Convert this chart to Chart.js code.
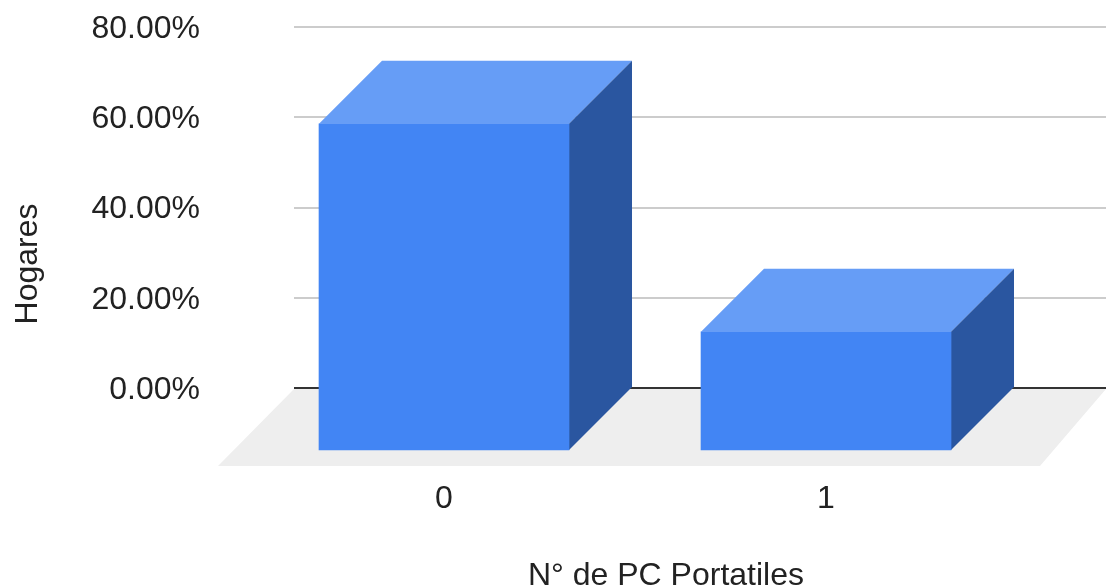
<!DOCTYPE html>
<html>
<head>
<meta charset="utf-8">
<style>
  html, body { margin: 0; padding: 0; background: #fff; }
  canvas { display: block; }
</style>
<script src="https://cdn.jsdelivr.net/npm/chart.js@4"></script>
</head>
<body>
<canvas id="chart" width="1106" height="588"></canvas>
<script>
const categories = [0, 1];
const hogares = [72.5, 26.4];
const yTicks = [0, 20, 40, 60, 80];
const xTitle = 'N° de PC Portatiles';
const yTitle = 'Hogares';

const FONT = '"Liberation Sans", Arial, sans-serif';
const DEPTH = 63; // how far the front of a bar sits from the back wall

const box3d = {
  id: 'box3d',
  // the grey floor goes under the grid lines
  beforeDraw(chart) {
    const { ctx, chartArea: a } = chart;
    ctx.save();
    ctx.fillStyle = '#eeeeee';
    ctx.beginPath();
    ctx.moveTo(a.left, a.bottom + 1);
    ctx.lineTo(a.right, a.bottom + 1);
    ctx.lineTo(a.right - 66, a.bottom + 78);
    ctx.lineTo(a.left - 76, a.bottom + 78);
    ctx.closePath();
    ctx.fill();
    ctx.restore();
  },
  beforeDatasetsDraw(chart) {
    const ctx = chart.ctx;
    chart.getDatasetMeta(0).data.forEach(bar => {
      const left = bar.x - bar.width / 2, right = bar.x + bar.width / 2;
      ctx.fillStyle = '#669df6';
      ctx.beginPath();
      ctx.moveTo(left - DEPTH, bar.y + DEPTH);
      ctx.lineTo(left, bar.y);
      ctx.lineTo(right, bar.y);
      ctx.lineTo(right - DEPTH, bar.y + DEPTH);
      ctx.closePath();
      ctx.fill();
      ctx.fillStyle = '#2a56a0';
      ctx.beginPath();
      ctx.moveTo(right - DEPTH, bar.y + DEPTH);
      ctx.lineTo(right, bar.y);
      ctx.lineTo(right, bar.base);
      ctx.lineTo(right - DEPTH, bar.base + DEPTH);
      ctx.closePath();
      ctx.fill();
    });
  },
  // the real bars are the front faces, moved forward onto the floor
  beforeDatasetDraw(chart) {
    chart.ctx.save();
    chart.ctx.translate(-DEPTH, DEPTH);
  },
  afterDatasetDraw(chart) {
    chart.ctx.restore();
  },
  // axis titles do not sit centred on the plot, so they are placed here
  afterDraw(chart) {
    const ctx = chart.ctx;
    ctx.save();
    ctx.fillStyle = '#222222';
    ctx.font = '32px ' + FONT;
    ctx.textAlign = 'center';
    ctx.textBaseline = 'middle';
    ctx.fillText(xTitle, 666, 576);
    ctx.translate(28, 264);
    ctx.rotate(-Math.PI / 2);
    ctx.fillText(yTitle, 0, 0);
    ctx.restore();
  }
};

new Chart(document.getElementById('chart'), {
  type: 'bar',
  data: {
    datasets: [{
      label: yTitle,
      data: categories.map((c, i) => ({ x: c, y: hogares[i] })),
      backgroundColor: '#4285f4',
      barThickness: 250,
      clip: false
    }]
  },
  plugins: [box3d],
  options: {
    responsive: false,
    animation: false,
    layout: { padding: { top: 27 } },
    plugins: {
      legend: { display: false },
      tooltip: { enabled: false }
    },
    scales: {
      x: {
        type: 'linear',
        offset: false,
        min: -0.5576,
        max: 1.568,
        afterBuildTicks(scale) { scale.ticks = categories.map(c => ({ value: c })); },
        afterFit(scale) { scale.height = 200; },
        border: { display: false },
        grid: { display: false },
        ticks: {
          color: '#222222',
          font: { family: FONT, size: 32 },
          padding: 84,
          labelOffset: -DEPTH,
          maxRotation: 0,
          callback: v => String(v)
        }
      },
      y: {
        min: 0,
        max: 80,
        afterBuildTicks(scale) { scale.ticks = yTicks.map(v => ({ value: v })); },
        afterFit(scale) { scale.width = 294; },
        border: { display: false },
        grid: {
          tickLength: 94,
          tickColor: 'transparent',
          lineWidth: 2,
          color: c => c.tick.value === 0 ? '#333333' : '#cccccc'
        },
        ticks: {
          color: '#222222',
          font: { family: FONT, size: 32 },
          padding: 0,
          labelOffset: 2,
          callback: v => v.toFixed(2) + '%'
        }
      }
    }
  }
});
</script>
</body>
</html>
